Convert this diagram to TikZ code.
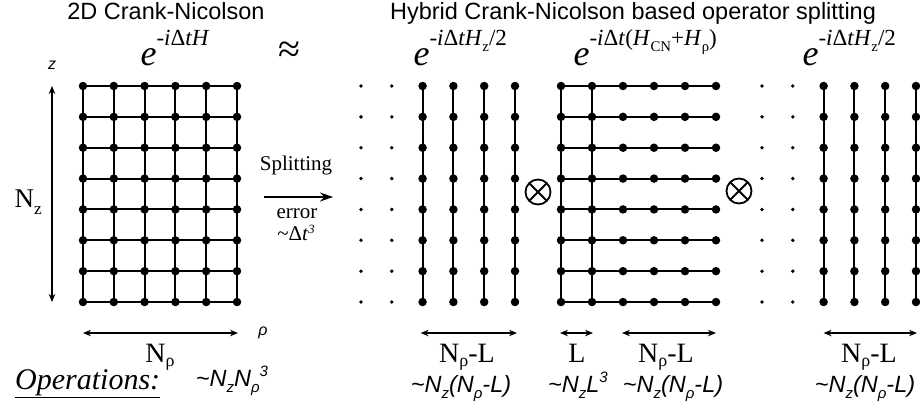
\documentclass[tikz,border=0pt]{standalone}
\usepackage{fontspec}
\usepackage{graphicx}
\setmainfont{Liberation Serif}
\setsansfont{Liberation Sans}
\usetikzlibrary{positioning,arrows.meta,calc}

\newcommand{\expo}[1]{\raisebox{0.55em}{\scalebox{0.64}{#1}}}
\newcommand{\pw}[1]{\raisebox{0.4em}{\scalebox{0.64}{#1}}}
\newcommand{\lowr}[1]{\raisebox{-0.26em}{\scalebox{0.64}{#1}}}
\newcommand{\lowd}[1]{\raisebox{-0.17em}{\scalebox{0.64}{#1}}}

\begin{document}
\begin{tikzpicture}[x=1pt, y=-1pt,
  dot/.style={circle, fill, inner sep=0pt, minimum size=8.5pt},
  small/.style={circle, fill, inner sep=0pt, minimum size=3.8pt},
  link/.style={line width=2pt},
  dimarrow/.style={{Stealth[length=8pt,width=6.5pt]}-{Stealth[length=8pt,width=6.5pt]}, line width=1.1pt},
  splitarrow/.style={-{Stealth[length=13pt,width=9pt]}, line width=1.2pt},
  title/.style={font=\sffamily\fontsize{23.5}{26}\selectfont, anchor=base},
  op/.style={font=\fontsize{36}{40}\selectfont, anchor=base west},
  dim/.style={font=\fontsize{28}{30}\selectfont, anchor=base, inner sep=0pt},
  cost/.style={font=\sffamily\itshape\fontsize{23.5}{26}\selectfont, anchor=base, inner sep=0pt},
  axis/.style={font=\sffamily\itshape\fontsize{16}{18}\selectfont},
  note/.style={font=\fontsize{21}{23}\selectfont, anchor=base, inner sep=0pt},
  prod/.style={circle, draw, line width=1.8pt, minimum size=25pt, inner sep=0pt,
    path picture={\draw[line width=1.8pt] (path picture bounding box.north west) -- (path picture bounding box.south east)
      (path picture bounding box.north east) -- (path picture bounding box.south west);}},
]
\useasboundingbox (0,0) rectangle (920,412);

% === Titles and operators ===
\node[title] (t-cn) at (166,20) {2D Crank-Nicolson};
\node[title] (t-hy) at (633,20) {Hybrid Crank-Nicolson based operator splitting};

\node[op] (f-cn) at (137,65) {\textit{e}\expo{-\textit{i}Δ\textit{tH}}};
\node[font=\fontsize{40}{42}\selectfont] (approx) at (289,52) {≈};
\node[op] (f-z1) at (410,65) {\textit{e}\expo{-\textit{i}Δ\textit{tH}\lowr{z}/2}};
\node[op] (f-r) at (570,65) {\textit{e}\expo{-\textit{i}Δ\textit{t}(\textit{H}\lowr{CN}+\textit{H}\lowr{ρ})}};
\node[op] (f-z2) at (799,65) {\textit{e}\expo{-\textit{i}Δ\textit{tH}\lowr{z}/2}};

% === 2D grid ===
\foreach \i in {0,...,5}
  \foreach \j in {0,...,7}
    \node[dot] (a-\i-\j) at (83+30.8*\i, 86+30.86*\j) {};
\foreach \i in {0,...,5}
  \draw[link] (a-\i-0) -- (a-\i-7);
\foreach \j in {0,...,7}
  \draw[link] (a-0-\j) -- (a-5-\j);

\coordinate (z-top) at ($(a-0-0)+(-31,0)$);
\coordinate (z-bot) at ($(a-0-7)+(-31,0)$);
\draw[dimarrow] (z-top) -- (z-bot);
\node[axis] (z) at (52,65) {z};
\node[font=\fontsize{27}{30}\selectfont, anchor=base west] (nz) at (11,207) {N\lowr{z}};

\coordinate (r-left) at ($(a-0-7)+(0,31)$);
\coordinate (r-right) at ($(a-5-7)+(1,31)$);
\draw[dimarrow] (r-left) -- (r-right);
\node[axis] (rho) at (263,333) {ρ};
\node[dim] (nr) at (160,362) {N\lowd{ρ}};

\node[font=\itshape\fontsize{30}{32}\selectfont, anchor=base west, inner sep=0pt] (ops) at (15,389) {\underline{Operations:}};
\node[cost] (c-cn) at (232,386) {\textasciitilde N\lowr{z}N\lowr{ρ}\pw{3}};

% === Splitting ===
\coordinate (sp-l) at (264,197);
\coordinate (sp-r) at (333,197);
\draw[splitarrow] (sp-l) -- (sp-r);
\node[note] (split) at (296,170) {Splitting};
\node[note] (err) at (297,218) {error};
\node[note] (dt) at (296,240) {\textasciitilde Δ\textit{t}\raisebox{0.3em}{\scalebox{0.6}{\textit{3}}}};

% === z half step ===
\foreach \i in {0,1}
  \foreach \j in {0,...,7}
    \node[small] (b-\i-\j) at (361+30.8*\i, 86+30.86*\j) {};
\foreach \i in {2,...,5}
  \foreach \j in {0,...,7}
    \node[dot] (b-\i-\j) at (361+30.8*\i, 86+30.86*\j) {};
\foreach \i in {2,...,5}
  \draw[link] (b-\i-0) -- (b-\i-7);

\node[prod] (x1) at (538,192) {};

% === CN + rho step ===
\foreach \i in {0,...,5}
  \foreach \j in {0,...,7}
    \node[dot] (c-\i-\j) at (561+31*\i, 86+30.86*\j) {};
\foreach \i in {0,1}
  \draw[link] (c-\i-0) -- (c-\i-7);
\foreach \j in {0,...,7}
  \draw[link] (c-0-\j) -- (c-5-\j);

\node[prod] (x2) at (739,191) {};

% === z half step ===
\foreach \i in {0,1}
  \foreach \j in {0,...,7}
    \node[small] (d-\i-\j) at (762+30.8*\i, 86+30.86*\j) {};
\foreach \i in {2,...,5}
  \foreach \j in {0,...,7}
    \node[dot] (d-\i-\j) at (762+30.8*\i, 86+30.86*\j) {};
\foreach \i in {2,...,5}
  \draw[link] (d-\i-0) -- (d-\i-7);

% === Sizes and costs ===
\coordinate (b-l) at ($(b-2-7)+(-2,31)$);
\coordinate (b-r) at ($(b-5-7)+(2,31)$);
\draw[dimarrow] (b-l) -- (b-r);
\node[dim] (nb) at (467,362) {N\lowd{ρ}-L};
\node[cost] (cb) at (461,392) {\textasciitilde N\lowr{z}(N\lowr{ρ}-L)};

\coordinate (l-l) at ($(c-0-7)+(-1,31)$);
\coordinate (l-r) at ($(c-1-7)+(1,31)$);
\draw[dimarrow] (l-l) -- (l-r);
\node[dim] (nl) at (577,362) {L};
\node[cost] (cl) at (578,392) {\textasciitilde N\lowr{z}L\pw{3}};

\coordinate (c-l) at ($(c-2-7)+(-1,31)$);
\coordinate (c-r) at ($(c-5-7)+(0,31)$);
\draw[dimarrow] (c-l) -- (c-r);
\node[dim] (nc) at (666,362) {N\lowd{ρ}-L};
\node[cost] (cc) at (673,392) {\textasciitilde N\lowr{z}(N\lowr{ρ}-L)};

\coordinate (d-l) at ($(d-2-7)+(0,31)$);
\coordinate (d-r) at ($(d-5-7)+(1,31)$);
\draw[dimarrow] (d-l) -- (d-r);
\node[dim] (nd) at (869,362) {N\lowd{ρ}-L};
\node[cost] (cd) at (865,392) {\textasciitilde N\lowr{z}(N\lowr{ρ}-L)};

\end{tikzpicture}
\end{document}
